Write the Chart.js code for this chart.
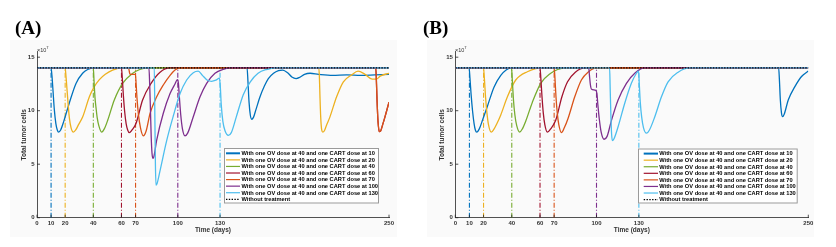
<!DOCTYPE html>
<html><head><meta charset="utf-8">
<script src="https://cdn.jsdelivr.net/npm/chart.js@4.4.1/dist/chart.umd.min.js"></script>
<style>
body{margin:0;background:#fff;}
#wrap{position:relative;width:836px;height:247px;overflow:hidden;}
.bg{position:absolute;background:#fafafa;}
canvas{position:absolute;top:0;}
.ttl{position:absolute;font:bold 19px "Liberation Serif",serif;line-height:19px;color:#000;white-space:nowrap;}
.exp{position:absolute;font:5.5px "Liberation Sans",Arial,sans-serif;color:#333;line-height:6px;white-space:nowrap;}
.exp sup{font-size:4px;}
</style></head>
<body>
<div id="wrap">
  <div class="bg" style="left:10px;top:40px;width:387px;height:197px"></div>
  <div class="bg" style="left:427px;top:40px;width:387px;height:197px"></div>
  <canvas id="cA" width="418" height="247" style="left:0"></canvas>
  <canvas id="cB" width="418" height="247" style="left:418px"></canvas>
  <div class="ttl" style="left:15px;top:18px">(A)</div>
  <div class="ttl" style="left:423px;top:18px">(B)</div>
  <div class="exp" style="left:37px;top:45px">×10<sup>7</sup></div>
  <div class="exp" style="left:455px;top:45px">×10<sup>7</sup></div>
</div>
<script>
// ---------- DATA (tumor cells in units of 1e7, time in days) ----------
const cartDays = [10, 20, 40, 60, 70, 100, 130];
const xTickValues = [0, 10, 20, 40, 60, 70, 100, 130, 250];
const yTickValues = [0, 5, 10, 15];
const noTreatTimes = [0, 250];
const noTreatValues = [14, 14];
const legendLabels = cartDays.map(d => 'With one OV dose at 40 and one CART dose at ' + d);
const noTreatLabel = 'Without treatment';

// Panel (A)
const A_cart10 = [[0,14],[10,14],[10.6,13.3],[11.3,12],[12.3,10.1],[13.4,8.8],[14.4,8.2],[15.4,8.0],[16.8,8.2],[19,9.0],[22.9,10.7],[27.7,12.55],[32.4,13.5],[36,13.85],[40,14],[149.2,14],[149.8,12.8],[150.6,10.8],[151.5,9.6],[152.5,9.2],[153.8,9.4],[155.5,10.1],[158.4,11.3],[161.5,12.3],[164.3,13.0],[168,13.5],[171.5,13.75],[174.5,13.8],[178,13.55],[181,13.15],[184,13.0],[187,13.15],[190,13.4],[194,13.5],[200,13.4],[210,13.3],[220,13.35],[230,13.3],[240,13.35],[250,13.4]];
const A_cart20 = [[0,14],[20,14],[20.6,13.2],[21.3,12],[22,10.8],[23,9.3],[24.2,8.4],[25.8,8.0],[27.5,8.2],[29.5,8.7],[32.4,9.4],[37.2,11.3],[40.5,12.2],[44.3,12.9],[48.5,13.4],[53.7,13.8],[61,14],[200.2,14],[200.6,13],[201,11.2],[201.5,9.4],[202.2,8.2],[203,8.0],[204,8.1],[205.5,8.6],[208,9.4],[212.8,11.3],[217.6,12.7],[223.5,13.35],[228,13.7],[233,13.4],[238,12.95],[241,12.95],[244,13.25],[250,13.5]];
const A_cart40 = [[0,14],[40,14],[40.5,12.8],[41.2,11.2],[41.9,10.3],[42.8,9.3],[43.8,8.65],[45.9,8.0],[47.8,8.3],[50.2,9.1],[54.9,11.0],[60.8,12.55],[68,13.5],[73,13.85],[78,14],[250,14]];
const A_cart60 = [[0,14],[60,14],[60.6,13],[61.3,11.5],[62.2,10.0],[63.3,8.8],[64.4,8.2],[65.6,7.95],[67.5,8.2],[70.3,8.8],[75,11.0],[81,12.55],[87.4,13.6],[94.5,14],[240.6,14],[241,13],[241.5,11],[242.2,9.0],[243.1,8.05],[244,8.1],[245.5,8.7],[247.2,9.45],[250,10.8]];
const A_cart70 = [[0,14],[65,14],[65.8,13.5],[66.5,13.4],[69.9,13.4],[70.4,12.5],[71,11.2],[72,9.7],[73.5,8.4],[75.5,7.65],[77.5,8.1],[80.3,9.75],[85,11.3],[89.7,12.4],[94.5,13.3],[98,13.8],[101.6,14],[240.6,14],[241,13],[241.5,11],[242.2,9.0],[243.1,8.05],[244,8.1],[245.5,8.7],[247.2,9.45],[250,10.8]];
const A_cart100 = [[0,14],[79.5,14],[80,12.6],[80.6,10],[81.1,7.6],[81.7,6.0],[82.3,5.55],[83,5.7],[85,7.26],[89.7,9.76],[94.5,11.6],[98,12.5],[99.7,12.9],[100.4,12.6],[101.1,11.3],[102.1,9.6],[103.3,8.3],[105.1,7.65],[107,7.9],[111,9.44],[115.8,11.3],[120.5,12.56],[126.4,13.5],[132.3,13.87],[138,14],[250,14]];
const A_cart130 = [[0,14],[83.3,14],[83.7,9.5],[84.1,5],[84.5,3.05],[85.3,3.2],[87.4,4.4],[92.1,7.2],[96.8,9.5],[101.6,11.6],[106.3,12.87],[111,13.55],[114.5,13.7],[117.5,13.3],[121,12.85],[124,12.75],[127,12.85],[129.6,13.05],[130.2,12.2],[130.9,10.5],[132,9.0],[133.6,8.1],[135.9,7.7],[138,7.95],[141.5,9.4],[146.5,11.5],[151.5,12.7],[157,13.5],[163,13.85],[170,14],[250,14]];

// Panel (B)
const B_cart10 = [[0,14],[9.8,14],[10.4,13],[11.2,11.5],[12.2,10],[13.3,8.8],[14.2,8.2],[15.2,8.0],[17,8.3],[19.5,9.2],[22.7,10.4],[27.4,12.2],[32.2,13.3],[36,13.8],[39.5,14],[229,14],[229.5,13],[230.2,11],[231,9.8],[231.8,9.45],[233,9.7],[235.8,11.0],[240.5,12.25],[245.2,13.2],[250,13.7]];
const B_cart20 = [[0,14],[20,14],[20.6,13],[21.4,11.3],[22.4,9.8],[23.5,8.7],[25.5,8.0],[27.5,8.3],[29.5,8.8],[32.2,9.6],[36.9,11.3],[42.8,12.87],[51,13.64],[61,14],[250,14]];
const B_cart40 = [[0,14],[39.8,14],[40.4,12.8],[41.2,11],[42.2,9.6],[43.5,8.6],[45.6,8.0],[47.5,8.3],[50.1,9.1],[54.6,10.8],[60.5,12.56],[67.6,13.5],[72.5,13.85],[78,14],[250,14]];
const B_cart60 = [[0,14],[60,14],[60.6,13],[61.4,11.3],[62.3,9.8],[63.4,8.7],[65.2,8.0],[67.5,8.3],[71.1,9.1],[75.5,11.3],[79.5,12.7],[85,13.6],[92,14],[250,14]];
const B_cart70 = [[0,14],[70,14],[70.6,13],[71.3,11.3],[72.2,9.8],[73.3,8.7],[75.2,7.95],[77.2,8.4],[79.9,9.3],[84.6,11.3],[89.3,12.87],[94,13.6],[100,14],[250,14]];
const B_cart100 = [[0,14],[94.5,14],[95,13.3],[95.7,12.4],[96.5,12.0],[99.5,11.9],[100.3,11.6],[101,10.5],[102,9.2],[103.3,8.0],[105.4,7.33],[107.5,7.6],[110.6,9.1],[115.3,11.0],[121.2,12.56],[127.1,13.5],[134,14],[250,14]];
const B_cart130 = [[0,14],[109.3,14],[109.7,12],[110.2,9.5],[110.7,7.8],[111.3,7.2],[112.3,7.35],[115.3,8.5],[120,10.7],[124.7,12.56],[128.3,13.5],[129.8,13.7],[130.3,12.5],[131,10.8],[132,9.4],[133.3,8.4],[135.4,7.9],[137.5,8.2],[141.3,9.44],[146,11.3],[150.7,12.7],[157.8,13.6],[166,14],[250,14]];

// ---------- STYLE ----------
const COLORS = ['#0072BD','#EDB120','#77AC30','#A2142F','#D95319','#7E2F8E','#4DBEEE'];
const AXIS_COLOR = '#262626';
const FONT = '"Liberation Sans", Arial, sans-serif';

function buildDatasets(series) {
  const ds = [];
  ds.push({
    label: noTreatLabel,
    data: noTreatTimes.map((t, i) => ({x: t, y: noTreatValues[i]})),
    borderColor: '#000', borderWidth: 1.4, borderDash: [1.4, 1.4],
    pointRadius: 0, order: 0, isLegend: true
  });
  series.forEach((s, i) => {
    ds.push({
      label: legendLabels[i],
      data: s.map(p => ({x: p[0], y: p[1]})),
      borderColor: COLORS[i], borderWidth: 1.3,
      cubicInterpolationMode: 'monotone',
      pointRadius: 0, order: 10 - i, isLegend: true
    });
  });
  cartDays.forEach((d, i) => {
    ds.push({
      label: 'dose ' + d,
      data: [{x: d, y: 0}, {x: d, y: noTreatValues[0]}],
      borderColor: COLORS[i], borderWidth: 1.1, borderDash: [5, 2, 1, 2],
      pointRadius: 0, order: 30
    });
  });
  return ds;
}

const inwardTicks = {
  id: 'inwardTicks',
  afterDraw(chart) {
    const {ctx, chartArea: a, scales: {x, y}} = chart;
    ctx.save();
    ctx.strokeStyle = AXIS_COLOR; ctx.lineWidth = 0.8;
    ctx.beginPath();
    x.ticks.forEach(t => { const p = x.getPixelForValue(t.value); ctx.moveTo(p, a.bottom); ctx.lineTo(p, a.bottom - 3); });
    y.ticks.forEach(t => { const p = y.getPixelForValue(t.value); ctx.moveTo(a.left, p); ctx.lineTo(a.left + 3, p); });
    ctx.stroke();
    ctx.restore();
  }
};

const boxLegend = {
  id: 'boxLegend',
  afterDraw(chart, args, opts) {
    const {ctx} = chart;
    const L = opts.left, T = opts.top, R = opts.right, B = opts.bottom;
    ctx.save();
    ctx.fillStyle = '#fff';
    ctx.fillRect(L, T, R - L, B - T);
    ctx.strokeStyle = '#9a9a9a'; ctx.lineWidth = 1;
    ctx.strokeRect(L + 0.5, T + 0.5, R - L - 1, B - T - 1);
    const items = chart.data.datasets.filter(d => d.isLegend);
    const ordered = items.slice(1).concat([items[0]]);
    ctx.font = 'bold 5.7px ' + FONT;
    ctx.textBaseline = 'middle';
    ordered.forEach((d, i) => {
      const yy = opts.firstRow + i * opts.rowStep;
      ctx.beginPath();
      ctx.strokeStyle = d.borderColor;
      ctx.lineWidth = i === 0 ? 2 : 1.2;
      ctx.setLineDash(d.borderDash || []);
      ctx.moveTo(opts.lineX0, yy); ctx.lineTo(opts.lineX1, yy);
      ctx.stroke();
      ctx.setLineDash([]);
      ctx.fillStyle = '#000';
      ctx.fillText(d.label, opts.textX, yy + 0.3);
    });
    ctx.restore();
  }
};

function makeChart(id, series, padRight, yWidth, legendOpts) {
  return new Chart(document.getElementById(id), {
    type: 'line',
    data: {datasets: buildDatasets(series)},
    plugins: [inwardTicks, boxLegend],
    options: {
      responsive: false, animation: false, devicePixelRatio: 1,
      layout: {padding: {left: 0, right: padRight, top: 51.85, bottom: 0}},
      plugins: {legend: {display: false}, tooltip: {enabled: false}, boxLegend: legendOpts},
      scales: {
        x: {
          type: 'linear', min: 0, max: 250,
          afterBuildTicks: s => { s.ticks = xTickValues.map(v => ({value: v})); },
          afterFit: s => { s.height = 29.3; },
          grid: {display: true, drawOnChartArea: false, drawTicks: false},
          border: {display: true, color: AXIS_COLOR, width: 0.8},
          ticks: {autoSkip: false, maxRotation: 0, padding: 2.5, color: '#333', font: {family: FONT, size: 6, weight: 'bold'}},
          title: {display: true, text: 'Time (days)', color: '#333', padding: {top: 0, bottom: 13}, font: {family: FONT, size: 6.5, weight: 'bold'}}
        },
        y: {
          type: 'linear', min: 0, max: 15.5,
          afterBuildTicks: s => { s.ticks = yTickValues.map(v => ({value: v})); },
          afterFit: s => { s.width = yWidth; },
          grid: {display: true, drawOnChartArea: false, drawTicks: false},
          border: {display: true, color: AXIS_COLOR, width: 0.8},
          ticks: {padding: 2.5, color: '#333', font: {family: FONT, size: 6, weight: 'bold'}},
          title: {display: true, text: 'Total tumor cells', color: '#333', padding: {top: 20, bottom: 0}, font: {family: FONT, size: 6.5, weight: 'bold'}}
        }
      }
    }
  });
}

makeChart('cA', [A_cart10, A_cart20, A_cart40, A_cart60, A_cart70, A_cart100, A_cart130], 29, 37,
  {left: 224, top: 148, right: 379, bottom: 203.5, firstRow: 153.3, rowStep: 6.57, lineX0: 226, lineX1: 240, textX: 241.5});
makeChart('cB', [B_cart10, B_cart20, B_cart40, B_cart60, B_cart70, B_cart100, B_cart130], 27.7, 37.3,
  {left: 220, top: 148.5, right: 379.7, bottom: 203.5, firstRow: 153.6, rowStep: 6.57, lineX0: 225.7, lineX1: 240, textX: 241.3});
</script>
</body></html>
